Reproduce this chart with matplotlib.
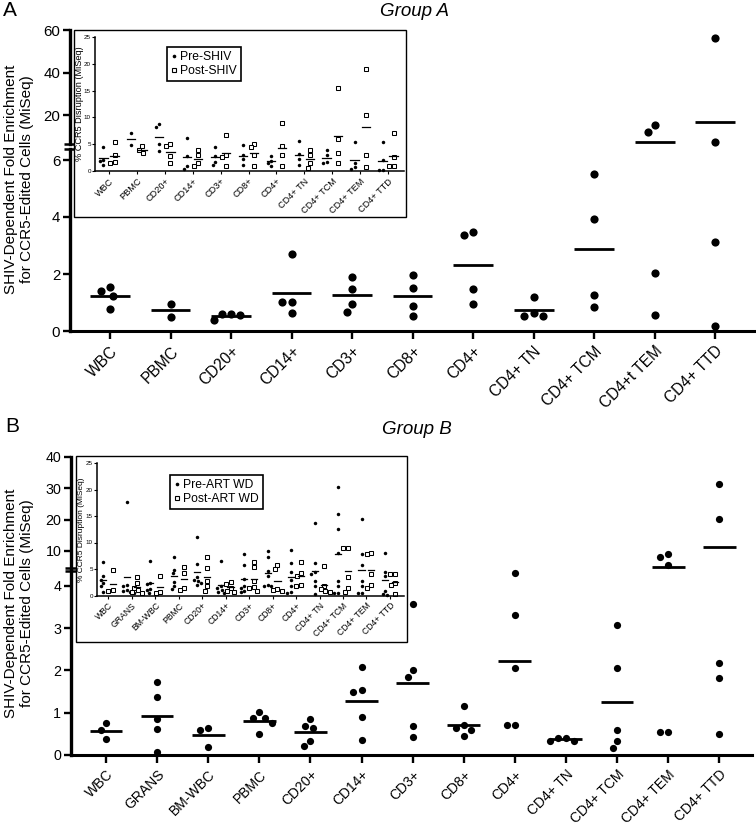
import numpy as np
import matplotlib
matplotlib.use('Agg')
import matplotlib.pyplot as plt
from matplotlib.lines import Line2D
from matplotlib.patches import Rectangle

plt.rcParams['font.family'] = ['Liberation Sans', 'DejaVu Sans']

# ---------------- DATA ----------------
A_cats = ['WBC', 'PBMC', 'CD20+', 'CD14+', 'CD3+', 'CD8+', 'CD4+', 'CD4+ TN',
          'CD4+ TCM', 'CD4+t TEM', 'CD4+ TTD']
A_main = [[1.40, 1.54, 1.23, 0.77], [0.95, 0.50], [0.58, 0.39, 0.55, 0.59],
          [2.70, 1.02, 1.02, 0.63], [1.91, 1.47, 0.95, 0.66], [1.96, 1.51, 0.88, 0.53],
          [3.36, 3.48, 1.47, 0.95], [1.20, 0.62, 0.53, 0.53], [5.51, 3.93, 1.26, 0.85],
          [12.0, 15.3, 2.04, 0.56], [56.2, 7.3, 3.12, 0.18]]

A_inset_cats = ['WBC', 'PBMC', 'CD20+', 'CD14+', 'CD3+', 'CD8+', 'CD4+', 'CD4+ TN',
                'CD4+ TCM', 'CD4+ TEM', 'CD4+ TTD']
A_pre = [[4.5, 2.1, 1.8, 1.2], [7.0, 4.8], [8.3, 8.7, 5.0, 3.7], [6.2, 2.8, 0.4, 0.9],
         [4.5, 2.8, 1.7, 1.1], [4.9, 3.0, 2.2, 1.1], [2.8, 0.9, 1.5, 1.9],
         [5.6, 3.2, 2.2, 1.2], [4.0, 3.0, 1.4, 1.6], [5.4, 1.5, 0.4, 0.7],
         [5.5, 2.0, 0.1, 0.1]]
A_post = [[5.4, 3.0, 1.6, 1.4], [4.6, 3.9, 3.4], [5.1, 4.7, 2.8, 1.4], [4.0, 2.9, 1.4, 0.9],
          [6.8, 3.0, 2.6, 0.9], [5.1, 4.5, 2.9, 0.9], [9.0, 4.6, 2.9, 0.9],
          [4.0, 2.9, 1.4, 0.6], [15.5, 5.9, 3.4, 1.5], [19.1, 10.4, 3.0, 0.7],
          [7.1, 2.6, 0.9, 0.9]]

B_cats = ['WBC', 'GRANS', 'BM-WBC', 'PBMC', 'CD20+', 'CD14+', 'CD3+', 'CD8+', 'CD4+',
          'CD4+ TN', 'CD4+ TCM', 'CD4+ TEM', 'CD4+ TTD']
B_main = [[0.75, 0.59, 0.38], [1.72, 1.36, 0.84, 0.61, 0.06], [0.65, 0.59, 0.18],
          [1.02, 0.87, 0.88, 0.76, 0.50], [0.69, 0.65, 0.84, 0.22, 0.34],
          [2.09, 1.50, 1.54, 0.89, 0.35], [3.57, 2.01, 1.84, 0.69, 0.43],
          [1.17, 0.65, 0.59, 0.70, 0.46], [4.30, 3.31, 2.06, 0.72, 0.72],
          [0.41, 0.34, 0.34, 0.41], [3.07, 2.06, 0.58, 0.34, 0.17],
          [9.0, 8.0, 5.5, 0.54, 0.54], [31.3, 20.3, 2.18, 1.83, 0.50]]

B_pre = [[6.4, 3.6, 3.0, 2.3, 1.8, 0.7], [17.6, 2.0, 1.8, 1.0, 0.8, 0.6, 0.5],
         [6.5, 2.3, 2.2, 1.2, 1.0, 0.5], [7.2, 4.9, 4.2, 2.6, 1.8, 1.2],
         [11.0, 6.0, 3.5, 3.0, 2.7, 2.4, 2.0], [6.6, 1.7, 1.4, 1.0, 0.7, 0.4],
         [7.8, 5.8, 3.2, 1.8, 1.4, 0.85, 0.6], [8.4, 7.3, 4.6, 3.6, 1.9, 1.8, 1.7],
         [8.6, 6.1, 4.5, 2.9, 1.7, 0.7, 0.5], [13.7, 6.1, 4.4, 4.0, 2.7, 1.8, 0.2],
         [20.5, 15.3, 12.5, 8.1, 2.8, 1.8, 0.5, 0.5], [14.4, 7.9, 5.8, 2.7, 1.7, 0.4, 0.4],
         [8.0, 4.4, 3.6, 0.85, 0.2, 0.1]]
B_post = [[4.8, 1.0, 0.9], [3.4, 2.3, 1.5, 1.0, 0.7, 0.4], [3.7, 0.7, 0.4],
          [5.4, 4.2, 1.5, 1.0], [7.2, 5.1, 2.7, 1.7, 0.85], [2.5, 2.1, 1.4, 0.85, 0.7],
          [6.3, 5.3, 2.7, 1.6, 1.4, 0.85], [5.8, 5.0, 1.2, 1.0, 0.85],
          [6.4, 4.2, 3.7, 2.0, 1.8], [5.5, 1.8, 1.2, 0.85, 0.7], [8.9, 8.9, 3.4, 1.4, 0.7],
          [8.1, 7.9, 4.1, 2.0, 1.5], [4.0, 4.0, 2.3, 1.9, 0.2]]

A_lo_ticks = [0, 2, 4, 6]
A_hi_ticks = [20, 40, 60]
B_lo_ticks = [0, 1, 2, 3, 4]
B_hi_ticks = [10, 20, 30, 40]
inset_yticks = [0, 5, 10, 15, 20, 25]

YLABEL = 'SHIV-Dependent Fold Enrichment\nfor CCR5-Edited Cells (MiSeq)'
INSET_YLABEL = '% CCR5 Disruption (MiSeq)'

# ---------------- FIGURE ----------------
W, H = 756, 826
fig = plt.figure(figsize=(W / 100, H / 100), dpi=100)


def fax(l, t, r, b, z=0):
    ax = fig.add_axes([l / W, 1 - b / H, (r - l) / W, (b - t) / H], zorder=z)
    ax.set_facecolor('none')
    return ax


def swarm(ypx, diam):
    n = len(ypx)
    order = np.argsort(-np.asarray(ypx))
    xs = np.zeros(n)
    placed = []
    for i in order:
        y = ypx[i]
        cands = [0.0]
        for (px, py) in placed:
            dy = abs(py - y)
            if dy < diam:
                dx = np.sqrt(diam ** 2 - dy ** 2)
                cands += [px - dx, px + dx]
        cands = sorted(cands, key=lambda c: (round(abs(c), 6), c))
        for c in cands:
            if all((c - px) ** 2 + (y - py) ** 2 >= diam ** 2 - 1e-6 for px, py in placed):
                xs[i] = c
                break
        placed.append((xs[i], y))
    return xs


def draw_main(lo, hi, cats, groups, lo_top, hi_range, lo_ticks, hi_ticks, xlim,
              ms, hw, xfs, yfs):
    for ax in (lo, hi):
        ax.set_xlim(*xlim)
        for s in ('top', 'right'):
            ax.spines[s].set_visible(False)
        ax.spines['left'].set_linewidth(2.4)
        ax.tick_params(axis='y', direction='out', length=5, width=1.7,
                       labelsize=yfs, pad=2)
    lo.set_ylim(0, lo_top)
    hi.set_ylim(*hi_range)
    hi.spines['bottom'].set_visible(False)
    hi.set_xticks([])
    lo.spines['bottom'].set_linewidth(2.2)
    lo.set_xticks(range(len(cats)))
    lo.set_xticklabels(cats, rotation=45, ha='right', va='top',
                       rotation_mode='anchor', fontsize=xfs)
    lo.tick_params(axis='x', direction='out', length=6, width=1.7, pad=3)
    lo.set_yticks(lo_ticks)
    hi.set_yticks(hi_ticks)
    # axis break marks
    wpx = lo.get_window_extent().width
    dx = 6.5 / wpx
    lo.plot([-dx, dx], [1, 1], transform=lo.transAxes, color='k', lw=1.8,
            clip_on=False, solid_capstyle='butt')
    hi.plot([-dx, dx], [0, 0], transform=hi.transAxes, color='k', lw=1.8,
            clip_on=False, solid_capstyle='butt')
    xscale = lo.transData.transform((1, 0))[0] - lo.transData.transform((0, 0))[0]
    diam = ms * 100 / 72 * 1.15
    for i, vals in enumerate(groups):
        v = np.asarray(vals, float)
        ypx = np.array([(lo if x <= lo_top else hi).transData.transform((0, x))[1] for x in v])
        offs = swarm(ypx, diam) / xscale
        for xo, val in zip(offs, v):
            ax = lo if val <= lo_top else hi
            ax.plot(i + xo, val, 'o', color='k', ms=ms, mew=0, clip_on=False)
        m = v.mean()
        ax = lo if m <= lo_top else hi
        ax.plot([i - hw, i + hw], [m, m], color='k', lw=2.0, solid_capstyle='butt',
                clip_on=False)


def draw_inset(ax, cats, pre, post, off, hw, xlim, ylfs, xfs, labels, anchor, ylx):
    ax.set_xlim(*xlim)
    ax.set_ylim(0, 25)
    for s in ('top', 'right'):
        ax.spines[s].set_visible(False)
    for s in ('left', 'bottom'):
        ax.spines[s].set_linewidth(1.1)
    ax.set_yticks(inset_yticks)
    ax.tick_params(axis='y', direction='out', length=2, width=0.8, labelsize=4.5, pad=1)
    ax.set_xticks(range(len(cats)))
    ax.set_xticklabels(cats, rotation=45, ha='right', va='top',
                       rotation_mode='anchor', fontsize=xfs)
    ax.tick_params(axis='x', direction='out', length=2.5, width=0.8, pad=1.5)
    ax.set_ylabel(INSET_YLABEL, fontsize=ylfs)
    ax.yaxis.set_label_coords(ylx, 0.5)
    xscale = ax.transData.transform((1, 0))[0] - ax.transData.transform((0, 0))[0]
    for i in range(len(cats)):
        for vals, sgn, kind in ((pre[i], -1, 'o'), (post[i], 1, 's')):
            v = np.asarray(vals, float)
            ypx = np.array([ax.transData.transform((0, x))[1] for x in v])
            diam = 3.8 if kind == 'o' else 4.8
            offs = swarm(ypx, diam) / xscale
            xc = i + sgn * off
            if kind == 'o':
                ax.plot(xc + offs, v, 'o', color='k', ms=2.5, mew=0, ls='none',
                        clip_on=False)
            else:
                ax.plot(xc + offs, v, 's', mfc='white', mec='k', ms=3.0, mew=0.75,
                        ls='none', clip_on=False)
            m = v.mean()
            ax.plot([xc - hw, xc + hw], [m, m], color='k', lw=0.9)
    handles = [Line2D([], [], marker='o', ls='none', color='k', ms=2.6, mew=0),
               Line2D([], [], marker='s', ls='none', mfc='white', mec='k', ms=3.4, mew=0.8)]
    leg = ax.legend(handles, labels, loc='upper left', bbox_to_anchor=anchor,
                    fontsize=8.7, frameon=True, fancybox=False, edgecolor='k',
                    borderpad=0.35, handlelength=0.5, handletextpad=0.25,
                    labelspacing=0.15, borderaxespad=0)
    leg.get_frame().set_linewidth(1.2)
    leg.get_frame().set_alpha(1)


# ---------------- PANEL A ----------------
A_lo = fax(70, 148.6, 755, 331)
A_hi = fax(70, 30, 755, 143.5)
draw_main(A_lo, A_hi, A_cats, A_main, 6.4, (6.7, 60), A_lo_ticks, A_hi_ticks,
          (-0.661, 10.66), ms=5.9, hw=0.33, xfs=11.2, yfs=10.8)

fig.patches.append(Rectangle((74 / W, 1 - 217 / H), 332 / W, 187 / H,
                             transform=fig.transFigure, facecolor='white',
                             edgecolor='k', lw=1.0, zorder=1))
A_in = fax(95, 37, 404, 171, z=2)
draw_inset(A_in, A_inset_cats, A_pre, A_post, 0.2, 0.15, (-0.5, 10.57), 6.6, 6.6,
           ['Pre-SHIV', 'Post-SHIV'], (0.233, 0.925), -0.035)

fig.text(10 / W, 1 - 11 / H, 'A', fontsize=15, ha='center', va='center')
fig.text(415 / W, 1 - 12 / H, 'Group A', fontsize=13.5, style='italic',
         ha='center', va='center')
fig.text(19 / W, 1 - 179 / H, YLABEL, fontsize=11, rotation=90, ha='center',
         va='center', linespacing=1.1)

# ---------------- PANEL B ----------------
B_lo = fax(71, 571, 752, 755)
B_hi = fax(71, 457, 752, 568)
draw_main(B_lo, B_hi, B_cats, B_main, 4.35, (4.5, 40), B_lo_ticks, B_hi_ticks,
          (-0.684, 12.64), ms=5.2, hw=0.32, xfs=10, yfs=10.3)

fig.patches.append(Rectangle((75.7 / W, 1 - 642 / H), 331 / W, 186 / H,
                             transform=fig.transFigure, facecolor='white',
                             edgecolor='k', lw=1.0, zorder=1))
B_in = fax(97, 463, 404, 595.5, z=2)
draw_inset(B_in, B_cats, B_pre, B_post, 0.21, 0.13, (-0.48, 12.6), 6.0, 6.2,
           ['Pre-ART WD', 'Post-ART WD'], (0.238, 0.909), -0.04)

fig.text(12 / W, 1 - 427 / H, 'B', fontsize=15, ha='center', va='center')
fig.text(417 / W, 1 - 429 / H, 'Group B', fontsize=13.5, style='italic',
         ha='center', va='center')
fig.text(19 / W, 1 - 603 / H, YLABEL, fontsize=11, rotation=90, ha='center',
         va='center', linespacing=1.1)

fig.savefig('out.png', dpi=100)
